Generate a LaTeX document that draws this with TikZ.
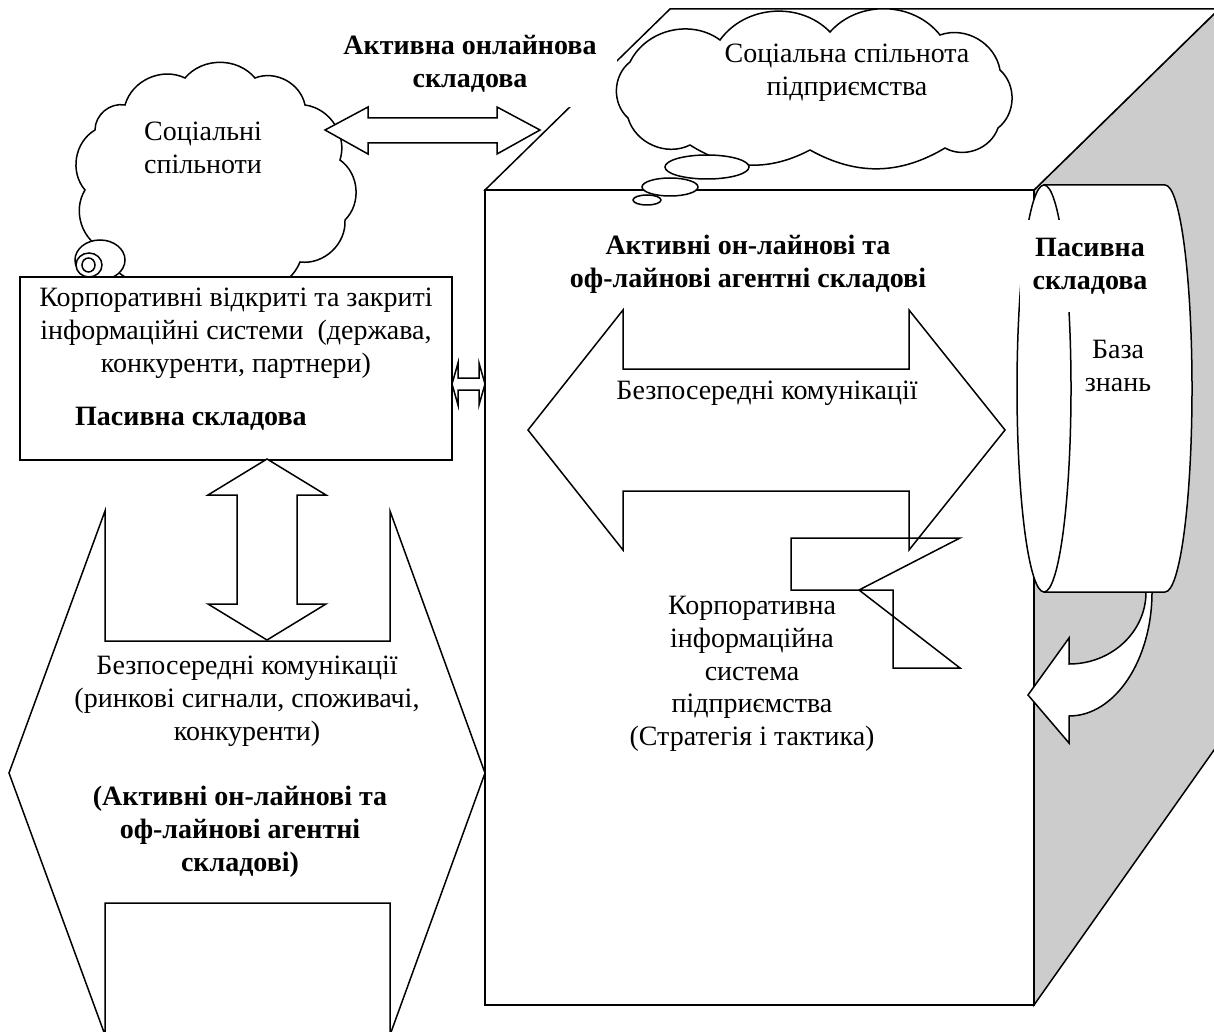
\documentclass[tikz,border=0pt]{standalone}
\usepackage{fontspec}
\setmainfont{Liberation Serif}
\definecolor{sidegray}{HTML}{CCCCCC}
\tikzset{
  ln/.style={draw=black, line width=1.5pt, line join=miter},
  wf/.style={ln, fill=white},
  txt/.style={font=\fontsize{28}{32.8}\selectfont, align=center, inner sep=0pt},
  btxt/.style={font=\fontsize{28}{32.8}\selectfont\bfseries, align=center, inner sep=0pt},
}
\begin{document}
\begin{tikzpicture}[x=1pt,y=-1pt]
\useasboundingbox (0,0) rectangle (1214,1032);
\clip (0,0) rectangle (1214,1032);
\fill[white] (0,0) rectangle (1214,1032);

% ---------- cube ----------
\path[ln, fill=sidegray] (1034,190) -- (1219,9) -- (1219,743) -- (1034,1005) -- cycle;
\path[wf] (485,190) -- (670,9) -- (1219,9) -- (1034,190) -- cycle;
\path[wf] (485,190) rectangle (1034,1005);

% label of the online component (white box hides part of the cube edge)
\node[btxt, fill=white, minimum width=294, minimum height=70] (onl) at (470,72) {};
\node[btxt] (onltext) at (470,64) {Активна онлайнова\\складова};

% ---------- cloud 1 ----------
\path[wf] (105,250) to[bend left=50] (85,190) to[bend left=50] (95,130)
  to[bend left=50] (125,105) to[bend left=50] (185,78) to[bend left=50] (255,78)
  to[bend left=50] (305,105) to[bend left=50] (340,160) to[bend left=50] (345,220)
  to[bend left=50] (300,262) to[bend left=50] (230,285) to[bend left=50] (160,280)
  to[bend left=50] (105,250) -- cycle;
\node[txt] (cl1t) at (203,148) {Соціальні\\спільноти};
\path[wf] (100,260) ellipse [x radius=25, y radius=20];
\path[wf] (89,265) ellipse [x radius=13, y radius=12];
\path[wf] (88.5,265) ellipse [x radius=6.5, y radius=7];

% ---------- cloud 2 ----------
\path[wf] (690,145) to[bend left=50] (628,118) to[bend left=50] (630,62)
  to[bend left=50] (720,40) to[bend left=50] (830,32) to[bend left=50] (940,35)
  to[bend left=50] (1000,70) to[bend left=50] (998,128) to[bend left=50] (945,148)
  to[bend left=30] (810,150) to[bend left=30] (690,145) -- cycle;
\node[txt] (cl2t) at (847,73) {Соціальна спільнота\\підприємства};
\path[wf] (707,167) ellipse [x radius=42, y radius=12];
\path[wf] (670,187) ellipse [x radius=28, y radius=9];
\path[wf] (647,200) ellipse [x radius=14, y radius=5];

% top double arrow
\path[wf] (325,130) -- (368,107) -- (368,118) -- (497,118) -- (497,107) -- (540,130)
  -- (497,154) -- (497,143) -- (368,143) -- (368,154) -- cycle;

% ---------- curved arrow ----------
\path[wf] (1146,585) -- (1146,592) .. controls (1146,632) and (1111.5,664) .. (1069,664)
  -- (1069,638) -- (1028,695) -- (1069,743) -- (1069,716)
  .. controls (1115,716) and (1152,660) .. (1152,592) -- (1152,585) -- cycle;

% ---------- cylinder ----------
\path[wf] (1044,185) -- (1165,185) .. controls (1180,185) and (1192,276) .. (1192,388.5)
  .. controls (1192,501) and (1180,592) .. (1165,592) -- (1044,592) -- cycle;
\path[wf] (1044,388.5) ellipse [x radius=27, y radius=203.5];
\node[btxt, fill=white, minimum width=140, minimum height=92] (pasbox) at (1090,266) {};
\node[btxt] (pas) at (1090,266) {Пасивна\\складова};
\node[txt] (kb) at (1118,366) {База\\знань};

% ---------- cube contents ----------
\node[btxt] (act) at (748,264) {Активні он-лайнові та\\оф-лайнові агентні складові};
\path[ln] (528,430) -- (623,310) -- (623,369) -- (909,369) -- (909,310) -- (1005,430)
  -- (909,550) -- (909,491) -- (623,491) -- (623,550) -- cycle;
\node[txt] (bk1) at (767,393) {Безпосередні комунікації};
\path[ln] (791,538) -- (960,538) -- (859,590) -- (960,668) -- (893,668) -- (893,590) -- (791,590) -- cycle;
\node[txt] (kis) at (752,674) {Корпоративна\\інформаційна\\система\\підприємства\\(Стратегія і тактика)};

% ---------- left box ----------
\path[wf] (20,277) rectangle (452,460);
\node[txt] (kor) at (236,333) {Корпоративні відкриті та закриті\\інформаційні системи\ \ (держава,\\конкуренти, партнери)};
\node[btxt, anchor=west] (pas2) at (75,419) {Пасивна складова};

% small double arrow box <-> cube
\path[wf] (452,384) -- (458,363) -- (458,378) -- (479,378) -- (479,363) -- (485,384)
  -- (479,405) -- (479,390) -- (458,390) -- (458,405) -- cycle;

% vertical double arrow
\path[wf] (267,459) -- (326,495) -- (297,495) -- (297,604) -- (326,604) -- (267,640)
  -- (208,604) -- (237,604) -- (237,495) -- (208,495) -- cycle;

% large hexagonal double arrow
\path[ln] (9,773) -- (105,511) -- (105,641) -- (390,641) -- (390,511) -- (485,773)
  -- (390,1035) -- (390,903) -- (105,903) -- (105,1035) -- cycle;
\node[txt] (bk2) at (247,701) {Безпосередні комунікації\\(ринкові сигнали, споживачі,\\конкуренти)};
\node[btxt] (act2) at (240,832) {(Активні он-лайнові та\\оф-лайнові агентні\\складові)};
\end{tikzpicture}
\end{document}
